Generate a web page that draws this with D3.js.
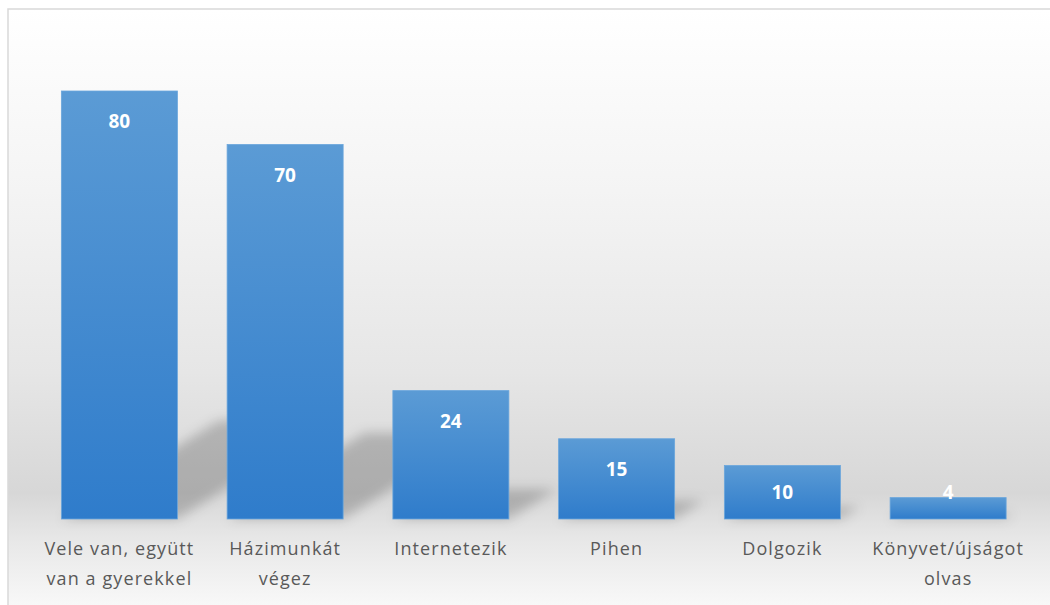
<!DOCTYPE html>
<meta charset="utf-8">
<style>
body { margin: 0; background: #fff; }
.cat { font-family: "Open Sans", sans-serif; font-size: 18px; letter-spacing: 1.1px; fill: #595959; }
.val { font-family: "Open Sans", sans-serif; font-size: 19px; font-weight: bold; fill: #fff; }
</style>
<svg width="1050" height="605"></svg>
<script src="https://cdn.jsdelivr.net/npm/d3@7"></script>
<script>
var width = 1050, height = 605;

// data
var categories = ["Vele van, együtt van a gyerekkel", "Házimunkát végez", "Internetezik", "Pihen", "Dolgozik", "Könyvet/újságot olvas"];
var tickLines = [["Vele van, együtt", "van a gyerekkel"], ["Házimunkát", "végez"], ["Internetezik"], ["Pihen"], ["Dolgozik"], ["Könyvet/újságot", "olvas"]];
var values = [80, 70, 24, 15, 10, 4];

var svg = d3.select("svg");
var defs = svg.append("defs");

var bg = defs.append("linearGradient").attr("id", "bg").attr("x1", 0).attr("y1", 0).attr("x2", 0).attr("y2", 1);
[[0, "#ffffff"], [0.3, "#f4f4f4"], [0.6, "#e6e6e6"], [0.8, "#d7d7d7"], [0.88, "#e8e8e8"], [1, "#fafafa"]].forEach(function(s) {
  bg.append("stop").attr("offset", s[0]).attr("stop-color", s[1]);
});

var barGrad = defs.append("linearGradient").attr("id", "barGrad").attr("x1", 0).attr("y1", 0).attr("x2", 0).attr("y2", 1);
barGrad.append("stop").attr("offset", 0).attr("stop-color", "#5b9bd5");
barGrad.append("stop").attr("offset", 1).attr("stop-color", "#2f7ccb");

defs.append("filter").attr("id", "blur").attr("x", "-50%").attr("y", "-50%").attr("width", "200%").attr("height", "200%")
  .append("feGaussianBlur").attr("stdDeviation", 6);

// chart frame
svg.append("rect").attr("x", 8).attr("y", 9).attr("width", width).attr("height", height)
  .attr("fill", "url(#bg)").attr("stroke", "#d9d9d9").attr("stroke-width", 1.5);

var baseY = 519;
var x = d3.scaleBand().domain(categories).range([36.5, 1031]).paddingInner(0.3).paddingOuter(0.15);
var y = d3.scaleLinear().domain([0, 90]).range([baseY, baseY - 90 * 5.35]);

// perspective shadows
var shadows = svg.append("g").attr("filter", "url(#blur)");
shadows.selectAll("path").data(values).enter().append("path")
  .attr("fill", "#000").attr("fill-opacity", 0.2)
  .attr("d", function(d, i) {
    var x0 = x(categories[i]), x1 = x0 + x.bandwidth();
    var hs = (baseY - y(d)) * 0.23, dx = hs * 1.6;
    return "M" + x0 + "," + baseY + "L" + (x0 + dx) + "," + (baseY - hs) +
      "L" + (x1 + dx) + "," + (baseY - hs) + "L" + x1 + "," + baseY + "Z";
  });

// bars
svg.selectAll(".bar").data(values).enter().append("rect")
  .attr("class", "bar")
  .attr("x", function(d, i) { return x(categories[i]); })
  .attr("y", function(d) { return y(d); })
  .attr("width", x.bandwidth())
  .attr("height", function(d) { return baseY - y(d); })
  .attr("fill", "url(#barGrad)")
  .attr("stroke", "#6aa6dc").attr("stroke-width", 0.8);

// value labels
svg.selectAll(".val").data(values).enter().append("text")
  .attr("class", "val")
  .attr("text-anchor", "middle")
  .attr("dominant-baseline", "central")
  .attr("x", function(d, i) { return x(categories[i]) + x.bandwidth() / 2; })
  .attr("y", function(d) { return Math.min(y(d) + 30, baseY - 27); })
  .text(function(d) { return d; });

// category labels
var cat = svg.selectAll(".cat").data(tickLines).enter().append("text")
  .attr("class", "cat")
  .attr("text-anchor", "middle")
  .attr("transform", function(d, i) { return "translate(" + (x(categories[i]) + x.bandwidth() / 2) + ",0)"; });
cat.selectAll("tspan").data(function(d) { return d; }).enter().append("tspan")
  .attr("x", 0)
  .attr("y", function(d, j) { return 555 + j * 30; })
  .text(function(d) { return d; });
</script>
